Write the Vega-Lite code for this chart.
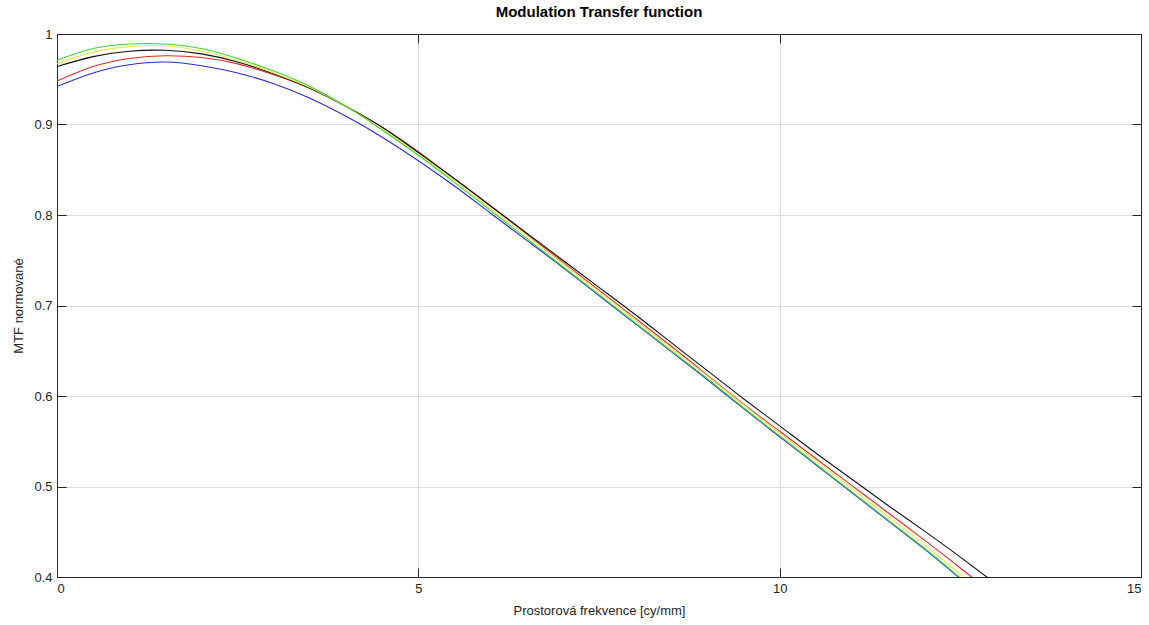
{
  "$schema": "https://vega.github.io/schema/vega-lite/v6.json",
  "width": 1084,
  "height": 543,
  "autosize": {"type": "none"},
  "padding": {"left": 57, "top": 34, "right": 8, "bottom": 48},
  "background": "white",
  "title": {"text": "Modulation Transfer function", "font": "Liberation Sans", "fontSize": 15, "fontWeight": "bold", "color": "#000000", "anchor": "middle", "offset": 8},
  "data": {"values": [
    {"f":0,"mtf":0.942,"s":"blue"},{"f":0.5,"mtf":0.957,"s":"blue"},{"f":1,"mtf":0.966,"s":"blue"},{"f":1.5,"mtf":0.969,"s":"blue"},{"f":2,"mtf":0.965,"s":"blue"},{"f":2.5,"mtf":0.957,"s":"blue"},{"f":3,"mtf":0.945,"s":"blue"},{"f":3.5,"mtf":0.929,"s":"blue"},{"f":4,"mtf":0.909,"s":"blue"},{"f":4.5,"mtf":0.886,"s":"blue"},{"f":5,"mtf":0.860,"s":"blue"},{"f":5.5,"mtf":0.832,"s":"blue"},{"f":6,"mtf":0.802,"s":"blue"},{"f":6.5,"mtf":0.772,"s":"blue"},{"f":7,"mtf":0.742,"s":"blue"},{"f":7.5,"mtf":0.711,"s":"blue"},{"f":8,"mtf":0.680,"s":"blue"},{"f":8.5,"mtf":0.649,"s":"blue"},{"f":9,"mtf":0.618,"s":"blue"},{"f":9.5,"mtf":0.586,"s":"blue"},{"f":10,"mtf":0.555,"s":"blue"},{"f":10.5,"mtf":0.524,"s":"blue"},{"f":11,"mtf":0.493,"s":"blue"},{"f":11.5,"mtf":0.462,"s":"blue"},{"f":12,"mtf":0.431,"s":"blue"},{"f":12.5,"mtf":0.398,"s":"blue"},{"f":13,"mtf":0.364,"s":"blue"},
    {"f":0,"mtf":0.948,"s":"red"},{"f":0.5,"mtf":0.964,"s":"red"},{"f":1,"mtf":0.973,"s":"red"},{"f":1.5,"mtf":0.976,"s":"red"},{"f":2,"mtf":0.974,"s":"red"},{"f":2.5,"mtf":0.967,"s":"red"},{"f":3,"mtf":0.955,"s":"red"},{"f":3.5,"mtf":0.940,"s":"red"},{"f":4,"mtf":0.920,"s":"red"},{"f":4.5,"mtf":0.897,"s":"red"},{"f":5,"mtf":0.870,"s":"red"},{"f":5.5,"mtf":0.840,"s":"red"},{"f":6,"mtf":0.810,"s":"red"},{"f":6.5,"mtf":0.779,"s":"red"},{"f":7,"mtf":0.748,"s":"red"},{"f":7.5,"mtf":0.717,"s":"red"},{"f":8,"mtf":0.686,"s":"red"},{"f":8.5,"mtf":0.655,"s":"red"},{"f":9,"mtf":0.623,"s":"red"},{"f":9.5,"mtf":0.591,"s":"red"},{"f":10,"mtf":0.561,"s":"red"},{"f":10.5,"mtf":0.531,"s":"red"},{"f":11,"mtf":0.501,"s":"red"},{"f":11.5,"mtf":0.471,"s":"red"},{"f":12,"mtf":0.441,"s":"red"},{"f":12.5,"mtf":0.410,"s":"red"},{"f":13,"mtf":0.378,"s":"red"},
    {"f":0,"mtf":0.964,"s":"black"},{"f":0.5,"mtf":0.975,"s":"black"},{"f":1,"mtf":0.981,"s":"black"},{"f":1.5,"mtf":0.982,"s":"black"},{"f":2,"mtf":0.978,"s":"black"},{"f":2.5,"mtf":0.969,"s":"black"},{"f":3,"mtf":0.956,"s":"black"},{"f":3.5,"mtf":0.940,"s":"black"},{"f":4,"mtf":0.920,"s":"black"},{"f":4.5,"mtf":0.897,"s":"black"},{"f":5,"mtf":0.869,"s":"black"},{"f":5.5,"mtf":0.840,"s":"black"},{"f":6,"mtf":0.810,"s":"black"},{"f":6.5,"mtf":0.780,"s":"black"},{"f":7,"mtf":0.750,"s":"black"},{"f":7.5,"mtf":0.720,"s":"black"},{"f":8,"mtf":0.690,"s":"black"},{"f":8.5,"mtf":0.659,"s":"black"},{"f":9,"mtf":0.628,"s":"black"},{"f":9.5,"mtf":0.597,"s":"black"},{"f":10,"mtf":0.567,"s":"black"},{"f":10.5,"mtf":0.537,"s":"black"},{"f":11,"mtf":0.508,"s":"black"},{"f":11.5,"mtf":0.479,"s":"black"},{"f":12,"mtf":0.451,"s":"black"},{"f":12.5,"mtf":0.422,"s":"black"},{"f":13,"mtf":0.392,"s":"black"},
    {"f":0,"mtf":0.967,"s":"yellow"},{"f":0.5,"mtf":0.980,"s":"yellow"},{"f":1,"mtf":0.986,"s":"yellow"},{"f":1.5,"mtf":0.987,"s":"yellow"},{"f":2,"mtf":0.981,"s":"yellow"},{"f":2.5,"mtf":0.971,"s":"yellow"},{"f":3,"mtf":0.957,"s":"yellow"},{"f":3.5,"mtf":0.941,"s":"yellow"},{"f":4,"mtf":0.920,"s":"yellow"},{"f":4.5,"mtf":0.895,"s":"yellow"},{"f":5,"mtf":0.867,"s":"yellow"},{"f":5.5,"mtf":0.838,"s":"yellow"},{"f":6,"mtf":0.807,"s":"yellow"},{"f":6.5,"mtf":0.777,"s":"yellow"},{"f":7,"mtf":0.746,"s":"yellow"},{"f":7.5,"mtf":0.715,"s":"yellow"},{"f":8,"mtf":0.684,"s":"yellow"},{"f":8.5,"mtf":0.653,"s":"yellow"},{"f":9,"mtf":0.622,"s":"yellow"},{"f":9.5,"mtf":0.590,"s":"yellow"},{"f":10,"mtf":0.559,"s":"yellow"},{"f":10.5,"mtf":0.529,"s":"yellow"},{"f":11,"mtf":0.498,"s":"yellow"},{"f":11.5,"mtf":0.467,"s":"yellow"},{"f":12,"mtf":0.436,"s":"yellow"},{"f":12.5,"mtf":0.403,"s":"yellow"},{"f":13,"mtf":0.370,"s":"yellow"},
    {"f":0,"mtf":0.971,"s":"green"},{"f":0.5,"mtf":0.984,"s":"green"},{"f":1,"mtf":0.989,"s":"green"},{"f":1.5,"mtf":0.989,"s":"green"},{"f":2,"mtf":0.984,"s":"green"},{"f":2.5,"mtf":0.973,"s":"green"},{"f":3,"mtf":0.959,"s":"green"},{"f":3.5,"mtf":0.942,"s":"green"},{"f":4,"mtf":0.920,"s":"green"},{"f":4.5,"mtf":0.894,"s":"green"},{"f":5,"mtf":0.866,"s":"green"},{"f":5.5,"mtf":0.836,"s":"green"},{"f":6,"mtf":0.805,"s":"green"},{"f":6.5,"mtf":0.774,"s":"green"},{"f":7,"mtf":0.743,"s":"green"},{"f":7.5,"mtf":0.712,"s":"green"},{"f":8,"mtf":0.681,"s":"green"},{"f":8.5,"mtf":0.650,"s":"green"},{"f":9,"mtf":0.619,"s":"green"},{"f":9.5,"mtf":0.587,"s":"green"},{"f":10,"mtf":0.556,"s":"green"},{"f":10.5,"mtf":0.525,"s":"green"},{"f":11,"mtf":0.494,"s":"green"},{"f":11.5,"mtf":0.463,"s":"green"},{"f":12,"mtf":0.432,"s":"green"},{"f":12.5,"mtf":0.399,"s":"green"},{"f":13,"mtf":0.365,"s":"green"}
  ]},
  "layer": [
    {
      "transform": [{"filter": "datum.s === 'blue'"}],
      "mark": {"type": "line", "color": "#2a2ad8", "strokeWidth": 1.1, "interpolate": "natural", "clip": true},
      "encoding": {
        "x": {"field": "f", "type": "quantitative", "scale": {"domain": [0, 15], "nice": false, "zero": false},
          "axis": {"orient": "bottom", "values": [0, 5, 10, 15], "format": "d", "grid": true, "tickSize": -9, "labelPadding": 14, "title": "Prostorová frekvence [cy/mm]", "titlePadding": 9}},
        "y": {"field": "mtf", "type": "quantitative", "scale": {"domain": [0.4, 1], "nice": false, "zero": false},
          "axis": {"orient": "left", "values": [0.4, 0.5, 0.6, 0.7, 0.8, 0.9, 1], "format": "~g", "grid": true, "tickSize": -9, "labelPadding": 14, "title": "MTF normované", "titlePadding": 8}}
      }
    },
    {
      "transform": [{"filter": "datum.s === 'red'"}],
      "mark": {"type": "line", "color": "#e02a2a", "strokeWidth": 1.1, "interpolate": "natural", "clip": true},
      "encoding": {
        "x": {"field": "f", "type": "quantitative", "axis": {"orient": "top", "values": [0, 5, 10, 15], "labels": false, "grid": false, "tickSize": -9, "title": null}},
        "y": {"field": "mtf", "type": "quantitative", "axis": {"orient": "right", "values": [0.4, 0.5, 0.6, 0.7, 0.8, 0.9, 1], "labels": false, "grid": false, "tickSize": -9, "title": null}}
      }
    },
    {
      "transform": [{"filter": "datum.s === 'black'"}],
      "mark": {"type": "line", "color": "#111111", "strokeWidth": 1.1, "interpolate": "natural", "clip": true},
      "encoding": {
        "x": {"field": "f", "type": "quantitative", "axis": null},
        "y": {"field": "mtf", "type": "quantitative", "axis": null}
      }
    },
    {
      "transform": [{"filter": "datum.s === 'yellow'"}],
      "mark": {"type": "line", "color": "#e8e84a", "strokeWidth": 1.1, "interpolate": "natural", "clip": true},
      "encoding": {
        "x": {"field": "f", "type": "quantitative", "axis": null},
        "y": {"field": "mtf", "type": "quantitative", "axis": null}
      }
    },
    {
      "transform": [{"filter": "datum.s === 'green'"}],
      "mark": {"type": "line", "color": "#3ad83a", "strokeWidth": 1.1, "interpolate": "natural", "clip": true},
      "encoding": {
        "x": {"field": "f", "type": "quantitative", "axis": null},
        "y": {"field": "mtf", "type": "quantitative", "axis": null}
      }
    }
  ],
  "resolve": {"axis": {"x": "independent", "y": "independent"}},
  "config": {
    "view": {"stroke": null},
    "axis": {
      "domainColor": "#262626", "domainWidth": 1, "tickColor": "#262626", "tickWidth": 1,
      "gridColor": "#dddddd", "gridWidth": 1,
      "labelFont": "Liberation Sans", "labelFontSize": 13, "labelColor": "#262626",
      "titleFont": "Liberation Sans", "titleFontSize": 13, "titleFontWeight": "normal", "titleColor": "#262626"
    }
  }
}
